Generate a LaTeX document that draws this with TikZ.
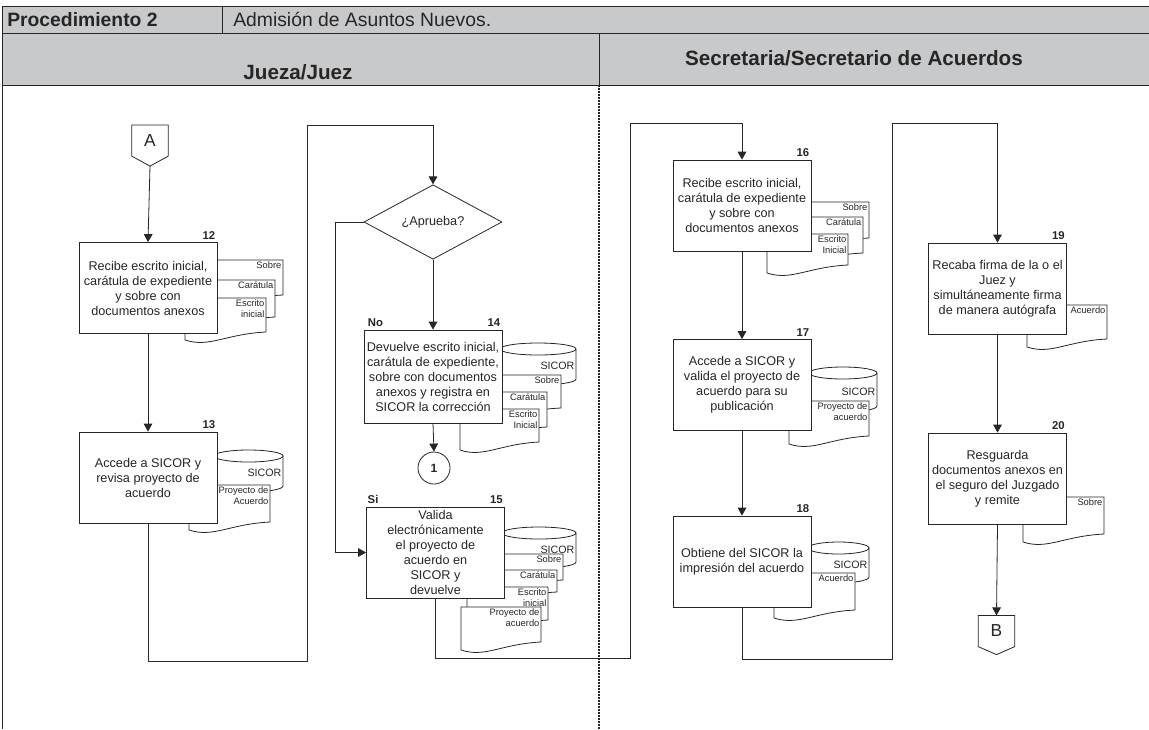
\documentclass[tikz,border=0pt]{standalone}
\usepackage{fontspec}
\setmainfont{Liberation Sans}
\usetikzlibrary{arrows.meta,calc,shapes.geometric}
\definecolor{ln}{HTML}{262626}
\definecolor{hdr}{HTML}{C8C9CB}
\tikzset{
 ln/.style={draw=ln, line width=0.6pt},
 proc/.style={ln, fill=white, minimum width=103.5pt, minimum height=68.25pt, align=center, inner sep=0pt, font=\fontsize{9.5}{11.25}\selectfont, text=ln},
 num/.style={font=\bfseries\fontsize{8.5}{10}\selectfont, inner sep=0pt, text=ln},
 arr/.style={ln, -{Triangle[length=6pt,width=6.5pt]}},
 wire/.style={ln},
 doclbl/.style={font=\fontsize{7}{8.4}\selectfont, align=right, inner sep=1pt, text=ln},
 cyllbl/.style={font=\fontsize{8}{9}\selectfont, inner sep=1pt, text=ln},
 offpage/.style={minimum width=27pt, minimum height=23pt, inner sep=0pt, font=\fontsize{13}{14}\selectfont, text=ln},
 hdrtxt/.style={font=\fontsize{14.5}{16}\selectfont, inner sep=0pt, text=ln},
 lanetxt/.style={font=\bfseries\fontsize{15.5}{17}\selectfont, inner sep=0pt, text=ln},
}
\newcommand{\docshape}[6]{%
 \draw[ln, fill=white] (#2,#3) -- (#4,#3) -- (#4,#5-8) .. controls ({#4-0.5*(#4-#2)},#5-6) and ({#2+0.3*(#4-#2)},#5+8) .. (#2,#5) -- cycle;
 \node[doclbl, anchor=north east] (#1) at (#4,#3) {#6};
}
\newcommand{\cylshape}[6]{%
 \draw[ln, fill=white] (#2,#3+6) -- (#2,#5-6) arc[start angle=180,end angle=360,x radius={(#4-#2)*0.375pt},y radius=4.5pt] -- (#4,#3+6) arc[start angle=0,end angle=180,x radius={(#4-#2)*0.375pt},y radius=4.5pt] -- cycle;
 \draw[ln] (#2,#3+6) arc[start angle=180,end angle=360,x radius={(#4-#2)*0.375pt},y radius=4.5pt];
 \node[cyllbl, anchor=east] (#1) at (#4,{(#3+#5)/2+2}) {#6};
}
\begin{document}
\begin{tikzpicture}[x=0.75pt,y=-0.75pt]
\useasboundingbox (0,0) rectangle (1149,729);
% header
\fill[hdr] (2,6) rectangle (1149,85);
\draw[ln] (2,6) -- (1149,6);
\draw[ln] (2,33) -- (1149,33);
\draw[ln] (2,85) -- (1149,85);
\draw[ln] (222,6) -- (222,33);
\draw[ln] (599,33) -- (599,85);
\draw[ln] (2,6) -- (2,729);
\draw[ln, line width=1pt, dash pattern=on 1.5pt off 0.75pt] (599,85) -- (599,729);
\node[hdrtxt, font=\bfseries\fontsize{14.5}{16}\selectfont, anchor=west] (proc) at (7,19.5) {Procedimiento 2};
\node[hdrtxt, anchor=west] (tit) at (233,19.5) {Admisión de Asuntos Nuevos.};
\node[lanetxt] (lane1) at (298,72) {Jueza/Juez};
\node[lanetxt] (lane2) at (854,58) {Secretaria/Secretario de Acuerdos};

% documents and stores (behind boxes)
\docshape{d12a}{190}{260}{283}{303}{Sobre}
\docshape{d12b}{188}{280}{275}{325}{Carátula}
\docshape{d12c}{185}{298}{266}{340}{Escrito\\inicial}

\cylshape{s13}{214}{450}{283}{492}{SICOR}
\docshape{d13a}{189}{485}{270}{530}{Proyecto de\\Acuerdo}

\cylshape{s14}{500}{343}{576}{385}{SICOR}
\docshape{d14a}{470}{375}{561}{416}{Sobre}
\docshape{d14b}{465}{392}{547}{435}{Carátula}
\docshape{d14c}{460}{409}{539}{450}{Escrito\\Inicial}

\cylshape{s15}{502}{527}{576}{568}{SICOR}
\docshape{d15a}{475}{554}{563}{588}{Sobre}
\docshape{d15b}{470}{570}{557}{600}{Carátula}
\docshape{d15c}{467}{587}{548}{628}{Escrito\\inicial}
\docshape{d15d}{461}{607}{541}{650}{Proyecto de\\acuerdo}

\docshape{d16a}{780}{202}{869}{246}{Sobre}
\docshape{d16b}{775}{217}{863}{261}{Carátula}
\docshape{d16c}{767}{234}{848}{273}{Escrito\\Inicial}

\cylshape{s17}{809}{367}{877}{412}{SICOR}
\docshape{d17a}{789}{401}{869}{444}{Proyecto de\\acuerdo}

\cylshape{s18}{808}{542}{869}{583}{SICOR}
\docshape{d18a}{774}{573}{855}{618}{Acuerdo}

\docshape{d19a}{1027}{305}{1107}{347}{Acuerdo}
\docshape{d20a}{1023}{497}{1104}{542}{Sobre}

% process boxes
\node[proc] (b12) at (148,288) {Recibe escrito inicial,\\carátula de expediente\\y sobre con\\documentos anexos};
\node[proc] (b13) at (148,477.5) {Accede a SICOR y\\revisa proyecto de\\acuerdo};
\node[proc, minimum height=69.75pt] (b14) at (433,376.5) {Devuelve escrito inicial,\\carátula de expediente,\\sobre con documentos\\anexos y registra en\\SICOR la corrección};
\node[proc] (b15) at (435.5,552.5) {Valida\\electrónicamente\\el proyecto de\\acuerdo en\\SICOR y\\devuelve};
\node[proc] (b16) at (742,205.5) {Recibe escrito inicial,\\carátula de expediente\\y sobre con\\documentos anexos};
\node[proc] (b17) at (742,385) {Accede a SICOR y\\valida el proyecto de\\acuerdo para su\\publicación};
\node[proc] (b18) at (742,561.5) {Obtiene del SICOR la\\impresión del acuerdo};
\node[proc] (b19) at (997.5,288.5) {Recaba firma de la o el\\Juez y\\simultáneamente firma\\de manera autógrafa};
\node[proc] (b20) at (997.5,478.5) {Resguarda\\documentos anexos en\\el seguro del Juzgado\\y remite};

\node[ln, diamond, fill=white, minimum width=103.5pt, minimum height=52.5pt, inner sep=0pt, font=\fontsize{9.5}{11.25}\selectfont, text=ln] (dia) at (433,222) {¿Aprueba?};
\node[ln, circle, minimum size=24pt, inner sep=0pt, font=\bfseries\fontsize{9}{10}\selectfont, text=ln] (c1) at (434,468) {1};

% step numbers
\node[num, anchor=south east] (n12) at ([xshift=-1.5pt,yshift=2pt]b12.north east) {12};
\node[num, anchor=south east] (n13) at ([xshift=-1.5pt,yshift=2pt]b13.north east) {13};
\node[num, anchor=south east] (n14) at ([xshift=-1.5pt,yshift=2pt]b14.north east) {14};
\node[num, anchor=south east] (n15) at ([xshift=-1.5pt,yshift=2pt]b15.north east) {15};
\node[num, anchor=south east] (n16) at ([xshift=-1.5pt,yshift=2pt]b16.north east) {16};
\node[num, anchor=south east] (n17) at ([xshift=-1.5pt,yshift=2pt]b17.north east) {17};
\node[num, anchor=south east] (n18) at ([xshift=-1.5pt,yshift=2pt]b18.north east) {18};
\node[num, anchor=south east] (n19) at ([xshift=-1.5pt,yshift=2pt]b19.north east) {19};
\node[num, anchor=south east] (n20) at ([xshift=-1.5pt,yshift=2pt]b20.north east) {20};
\node[num, anchor=south west] (no) at ([xshift=3pt,yshift=2pt]b14.north west) {No};
\node[num, anchor=south west] (si) at ([xshift=1pt,yshift=2pt]b15.north west) {Si};

% off-page connectors
\node[offpage] (A) at (150,140.5) {A};
\draw[ln] (A.north west) -- (A.north east) -- (A.south east) -- ($(A.south)+(0,10)$) -- (A.south west) -- cycle;
\coordinate (Atip) at ($(A.south)+(0,10)$);
\node[offpage] (B) at (996.5,631) {B};
\draw[ln] (B.north west) -- (B.north east) -- (B.south east) -- ($(B.south)+(0,8)$) -- (B.south west) -- cycle;

% loop corner coordinates
\coordinate (l1) at (307,661);
\coordinate (l1t) at (307,125);
\coordinate (l2) at (630,658);
\coordinate (l2t) at (630,123);
\coordinate (l3) at (892,659);
\coordinate (l3t) at (892,123);
\coordinate (si1) at (335,222);

% connectors
\draw[arr] (Atip) -- (b12.north);
\draw[arr] (b12.south) -- (b13.north);
\draw[arr] (b13.south) |- (l1) -- (l1t) -| (dia.north);
\draw[arr] (dia.south) -- (b14.north);
\draw[arr] (dia.west) -- (si1) |- (b15.west);
\draw[arr] (b14.south) -- (c1.north);
\draw[arr] (b15.south) |- (l2) -- (l2t) -| (b16.north);
\draw[arr] (b16.south) -- (b17.north);
\draw[arr] (b17.south) -- (b18.north);
\draw[arr] (b18.south) |- (l3) -- (l3t) -| (b19.north);
\draw[arr] (b19.south) -- (b20.north);
\draw[arr] (b20.south) -- (B.north);
\end{tikzpicture}
\end{document}
